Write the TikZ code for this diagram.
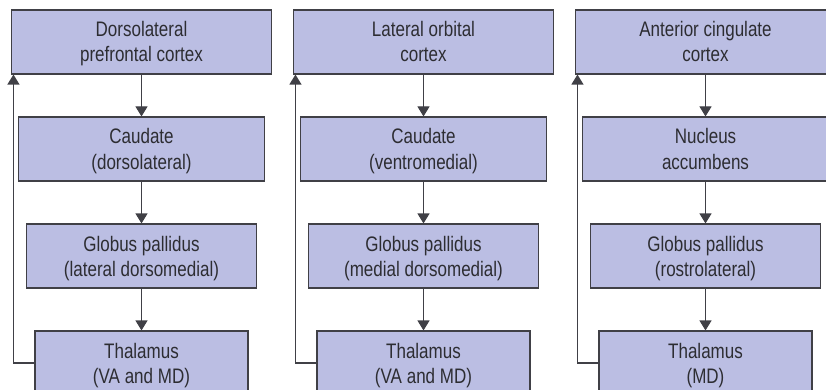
\documentclass[tikz,border=0pt]{standalone}
\usepackage{fontspec}
\setmainfont[FakeStretch=0.81]{Liberation Sans}
\usetikzlibrary{positioning,arrows.meta,calc}
\definecolor{boxfill}{RGB}{187,190,227}
\definecolor{boxline}{RGB}{64,64,70}
\definecolor{textgray}{RGB}{45,45,50}

\begin{document}
\begin{tikzpicture}[x=1pt,y=-1pt,
  region/.style={draw=boxline,line width=1.1pt,fill=boxfill,text=textgray,align=center,
    minimum height=64pt,inner sep=0pt,text height=40pt,text depth=0pt,
    font=\fontsize{21}{25}\selectfont},
  cortex/.style={region,minimum width=260pt},
  striatum/.style={region,minimum width=246pt},
  pallidum/.style={region,minimum width=230pt},
  thal/.style={region,minimum width=213pt},
  flow/.style={draw=boxline,line width=1.1pt,-{Triangle[width=12pt,length=10pt]}}]
  \useasboundingbox (0,0) rectangle (826,390);
  % dorsolateral prefrontal loop
  \node[cortex]   (dlpfc)  at (141.5,42)  {Dorsolateral\\prefrontal cortex};
  \node[striatum] (cauddl) at (141.5,149) {Caudate\\(dorsolateral)};
  \node[pallidum] (gpldm)  at (141.5,256) {Globus pallidus\\(lateral dorsomedial)};
  \node[thal]     (thalA)  at (141.5,363) {Thalamus\\(VA and MD)};
  % lateral orbital loop
  \node[cortex]   (lofc)   at (423.5,42)  {Lateral orbital\\cortex};
  \node[striatum] (caudvm) at (423.5,149) {Caudate\\(ventromedial)};
  \node[pallidum] (gpmdm)  at (423.5,256) {Globus pallidus\\(medial dorsomedial)};
  \node[thal]     (thalB)  at (423.5,363) {Thalamus\\(VA and MD)};
  % anterior cingulate loop
  \node[cortex]   (acc)    at (705.5,42)  {Anterior cingulate\\cortex};
  \node[striatum] (nacc)   at (705.5,149) {Nucleus\\accumbens};
  \node[pallidum] (gprl)   at (705.5,256) {Globus pallidus\\(rostrolateral)};
  \node[thal]     (thalC)  at (705.5,363) {Thalamus\\(MD)};
  % downward steps
  \draw[flow] (dlpfc) -- (cauddl);
  \draw[flow] (cauddl) -- (gpldm);
  \draw[flow] (gpldm) -- (thalA);
  \draw[flow] (lofc) -- (caudvm);
  \draw[flow] (caudvm) -- (gpmdm);
  \draw[flow] (gpmdm) -- (thalB);
  \draw[flow] (acc) -- (nacc);
  \draw[flow] (nacc) -- (gprl);
  \draw[flow] (gprl) -- (thalC);
  % return paths to cortex
  \draw[flow] (thalA.west) -| ($(dlpfc.south west)+(2.5,0)$);
  \draw[flow] (thalB.west) -| ($(lofc.south west)+(2.5,0)$);
  \draw[flow] (thalC.west) -| ($(acc.south west)+(2.5,0)$);
\end{tikzpicture}
\end{document}
